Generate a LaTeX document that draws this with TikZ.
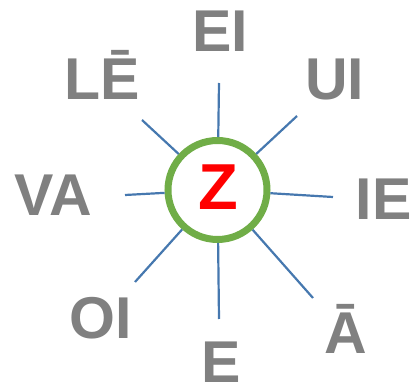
\documentclass[tikz,border=0pt]{standalone}
\usepackage{fontspec}
\setmainfont{Liberation Sans}
\usepackage{tikz}
\definecolor{ringgreen}{RGB}{112,173,71}
\definecolor{spokeblue}{RGB}{70,120,175}
\definecolor{labelgray}{RGB}{128,128,128}

\begin{document}
\begin{tikzpicture}[x=1pt,y=-1pt,spoke/.style={draw=spokeblue,line width=2.2pt}]
        \tikzstyle{word}=[anchor=base,inner sep=0pt,text=labelgray,font=\fontsize{59}{60}\bfseries\selectfont]
        \useasboundingbox (0,0) rectangle (416,390);

        \node[circle,draw=ringgreen,line width=7pt,fill=white,inner sep=0pt,minimum size=99pt] (z) at (217.5,190) {};
        \node[anchor=base,inner sep=0pt,text=red,font=\fontsize{65}{66}\bfseries\selectfont] (zt) at (218.5,210) {Z};

        \coordinate (e0) at (219,83);
        \coordinate (e1) at (297,116);
        \coordinate (e2) at (333,197);
        \coordinate (e3) at (313,298);
        \coordinate (e4) at (219,319);
        \coordinate (e5) at (135,282);
        \coordinate (e6) at (125,195);
        \coordinate (e7) at (142,120);

        \node[word] (w0) at (220.5,52) {EI};
        \node[word] (w1) at (334.5,100) {UI};
        \node[word] (w2) at (383.5,220) {IE};
        \node[word] (w3) at (345.5,354) {Ā};
        \node[word] (w4) at (221,383) {E};
        \node[word] (w5) at (101,339) {OI};
        \node[word] (w6) at (53.5,216) {VA};
        \node[word] (w7) at (102,100) {LĒ};

        \path[spoke]
            (z) edge (e0)
                edge (e1)
                edge (e2)
                edge (e3)
                edge (e4)
                edge (e5)
                edge (e6)
                edge (e7);

\end{tikzpicture}
\end{document}
